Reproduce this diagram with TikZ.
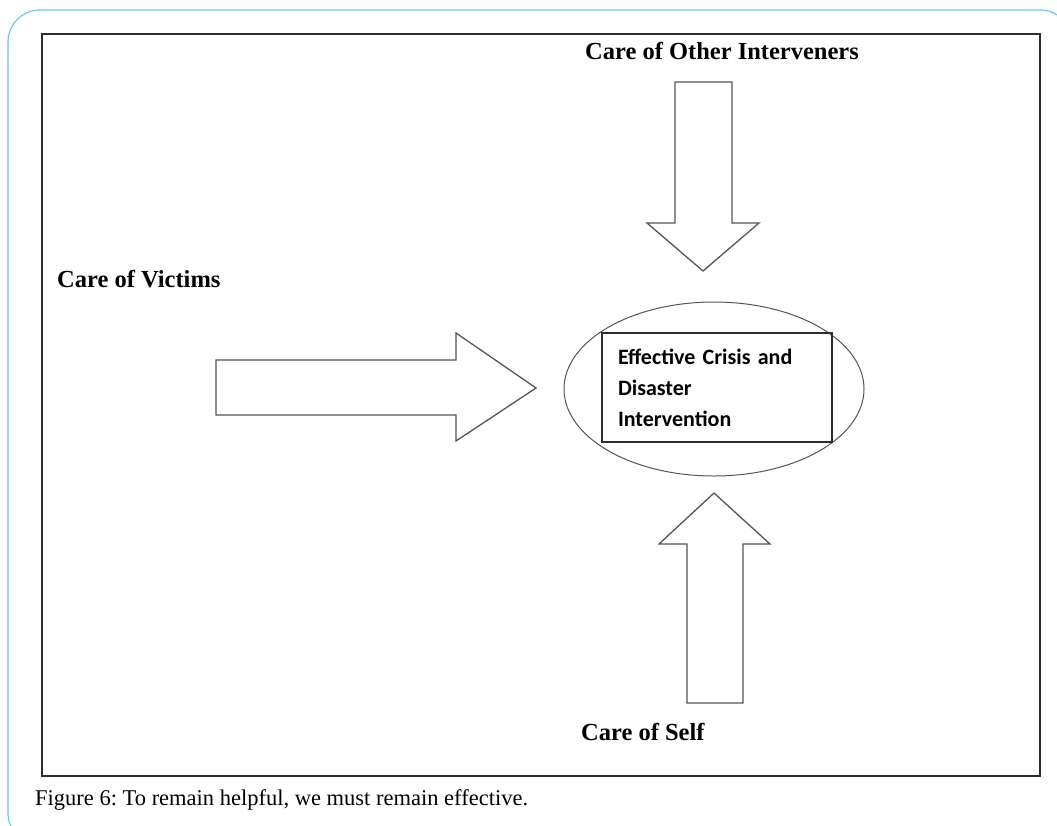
\documentclass[tikz,border=0pt]{standalone}
\usepackage{fontspec}
\setmainfont{Liberation Serif}
\newfontfamily\carlito{Carlito}
\usetikzlibrary{shapes.geometric}
\frenchspacing
\definecolor{frameblue}{RGB}{105,200,238}
\definecolor{linegray}{RGB}{85,85,85}
\definecolor{darkline}{RGB}{45,45,45}
\tikzset{
  title/.style={font=\bfseries\fontsize{24.5}{28}\selectfont, anchor=base, inner sep=0pt},
  blockarrow/.style={draw=linegray, line width=1.3pt, fill=white, line join=miter},
  centerbox/.style={draw=darkline, line width=1.6pt, minimum width=230pt, minimum height=109pt,
    inner sep=0pt, text width=198pt, align=left,
    font={\carlito\bfseries\fontsize{22}{31}\selectfont}},
  oval/.style={ellipse, draw=linegray, line width=1pt, minimum width=300pt, minimum height=174pt}
}
\begin{document}
\begin{tikzpicture}[x=1pt,y=-1pt]
\useasboundingbox (0,0) rectangle (1057,825);
\begin{scope}
\clip (0,0) rectangle (1057,825);
\draw[frameblue, line width=1.2pt, rounded corners=32pt] (8,10) rectangle (1072,845);
\end{scope}
\draw[darkline, line width=2pt] (42,34) rectangle (1040,776);

% titles
\node[title] (other) at (722,59) {Care of Other Interveners};
\node[title, anchor=base west] (victims) at (57,287) {Care of Victims};
\node[title, anchor=base west] (self) at (581,740) {Care of Self};

% centre
\node[oval] (oval) at (714,389) {};
\node[centerbox] (box) at (717,387.5) {Effective Crisis and\\Disaster\\Intervention};

% block arrows
\draw[blockarrow] (675,82) -- (732,82) -- (732,223) -- (759,223) -- (703,271) -- (647,223) -- (675,223) -- cycle;
\draw[blockarrow] (216,360) -- (456,360) -- (456,333) -- (536,388) -- (456,441) -- (456,415) -- (216,415) -- cycle;
\draw[blockarrow] (687,703) -- (687,544) -- (659,544) -- (714,493) -- (770,544) -- (743,544) -- (743,703) -- cycle;

% caption
\node[anchor=base west, inner sep=0pt, font=\fontsize{22.5}{26}\selectfont] (caption) at (35,805)
  {Figure 6: To remain helpful, we must remain effective.};
\end{tikzpicture}
\end{document}
